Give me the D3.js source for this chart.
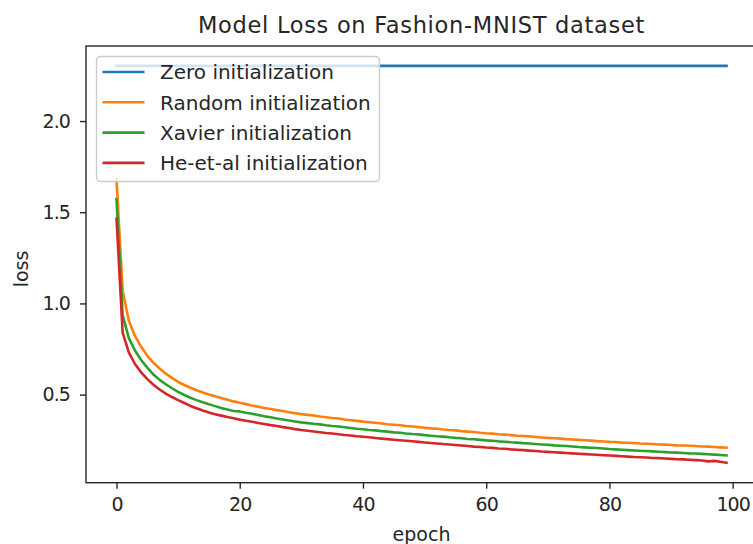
<!DOCTYPE html>
<html>
<head>
<meta charset="utf-8">
<script src="https://cdn.jsdelivr.net/npm/d3@7/dist/d3.min.js"></script>
<style>
  html, body { margin: 0; padding: 0; background: #fff; overflow: hidden; }
  svg { display: block; font-family: "DejaVu Sans", sans-serif; }
</style>
</head>
<body>
<svg id="svg" width="753" height="544"></svg>
<script>
// loss per epoch (epochs 0..99)
var epochs = d3.range(0, 100);

var zeroLoss = [
  2.3027, 2.3026, 2.3026, 2.3026, 2.3026, 2.3026, 2.3026, 2.3026, 2.3026, 2.3026,
  2.3026, 2.3026, 2.3026, 2.3026, 2.3026, 2.3026, 2.3026, 2.3026, 2.3026, 2.3026,
  2.3026, 2.3026, 2.3026, 2.3026, 2.3026, 2.3026, 2.3026, 2.3026, 2.3026, 2.3026,
  2.3026, 2.3026, 2.3026, 2.3026, 2.3026, 2.3026, 2.3026, 2.3026, 2.3026, 2.3026,
  2.3026, 2.3026, 2.3026, 2.3026, 2.3026, 2.3026, 2.3026, 2.3026, 2.3026, 2.3026,
  2.3026, 2.3026, 2.3026, 2.3026, 2.3026, 2.3026, 2.3026, 2.3026, 2.3026, 2.3026,
  2.3026, 2.3026, 2.3026, 2.3026, 2.3026, 2.3026, 2.3026, 2.3026, 2.3026, 2.3026,
  2.3026, 2.3026, 2.3026, 2.3026, 2.3026, 2.3026, 2.3026, 2.3026, 2.3026, 2.3026,
  2.3026, 2.3026, 2.3026, 2.3026, 2.3026, 2.3026, 2.3026, 2.3026, 2.3026, 2.3026,
  2.3026, 2.3026, 2.3026, 2.3026, 2.3026, 2.3026, 2.3026, 2.3026, 2.3026, 2.3026
];

var randomLoss = [
  1.680, 1.070, 0.905, 0.822, 0.762, 0.713, 0.674, 0.643, 0.615, 0.592,
  0.570, 0.553, 0.538, 0.524, 0.512, 0.501, 0.491, 0.481, 0.472, 0.463,
  0.455, 0.448, 0.441, 0.434, 0.427, 0.421, 0.415, 0.410, 0.403, 0.398,
  0.393, 0.389, 0.386, 0.380, 0.376, 0.372, 0.369, 0.364, 0.360, 0.356,
  0.352, 0.349, 0.346, 0.342, 0.338, 0.335, 0.332, 0.328, 0.325, 0.322,
  0.318, 0.315, 0.313, 0.309, 0.306, 0.304, 0.300, 0.297, 0.295, 0.291,
  0.288, 0.286, 0.283, 0.281, 0.278, 0.275, 0.273, 0.271, 0.268, 0.265,
  0.263, 0.261, 0.259, 0.256, 0.254, 0.252, 0.250, 0.248, 0.245, 0.243,
  0.241, 0.240, 0.237, 0.236, 0.234, 0.232, 0.231, 0.229, 0.227, 0.226,
  0.224, 0.222, 0.221, 0.220, 0.218, 0.216, 0.215, 0.213, 0.211, 0.209
];

var xavierLoss = [
  1.571, 0.935, 0.810, 0.742, 0.690, 0.648, 0.610, 0.581, 0.557, 0.535,
  0.515, 0.498, 0.483, 0.470, 0.458, 0.447, 0.437, 0.427, 0.418, 0.410,
  0.408, 0.401, 0.395, 0.388, 0.381, 0.376, 0.369, 0.364, 0.358, 0.353,
  0.348, 0.344, 0.340, 0.337, 0.332, 0.328, 0.325, 0.321, 0.317, 0.313,
  0.310, 0.306, 0.304, 0.300, 0.297, 0.293, 0.291, 0.287, 0.284, 0.282,
  0.278, 0.275, 0.272, 0.270, 0.266, 0.263, 0.261, 0.257, 0.255, 0.252,
  0.249, 0.247, 0.244, 0.242, 0.239, 0.237, 0.234, 0.232, 0.229, 0.227,
  0.225, 0.222, 0.220, 0.218, 0.216, 0.213, 0.211, 0.209, 0.207, 0.205,
  0.202, 0.200, 0.198, 0.196, 0.194, 0.192, 0.191, 0.189, 0.187, 0.185,
  0.183, 0.182, 0.180, 0.178, 0.177, 0.175, 0.173, 0.171, 0.169, 0.167
];

var heLoss = [
  1.464, 0.840, 0.732, 0.668, 0.622, 0.585, 0.554, 0.528, 0.506, 0.487,
  0.470, 0.454, 0.438, 0.425, 0.413, 0.402, 0.393, 0.385, 0.377, 0.370,
  0.363, 0.357, 0.351, 0.345, 0.339, 0.333, 0.328, 0.322, 0.317, 0.311,
  0.306, 0.302, 0.298, 0.294, 0.290, 0.287, 0.283, 0.279, 0.276, 0.272,
  0.269, 0.266, 0.262, 0.259, 0.256, 0.253, 0.250, 0.247, 0.244, 0.241,
  0.238, 0.235, 0.232, 0.229, 0.227, 0.224, 0.221, 0.218, 0.215, 0.213,
  0.210, 0.208, 0.205, 0.203, 0.200, 0.198, 0.196, 0.193, 0.191, 0.188,
  0.186, 0.184, 0.182, 0.180, 0.178, 0.176, 0.174, 0.172, 0.170, 0.168,
  0.166, 0.164, 0.162, 0.160, 0.158, 0.157, 0.155, 0.153, 0.152, 0.150,
  0.148, 0.146, 0.145, 0.143, 0.141, 0.139, 0.134, 0.137, 0.132, 0.126
];

var seriesNames = ["Zero initialization", "Random initialization", "Xavier initialization", "He-et-al initialization"];
var seriesValues = [zeroLoss, randomLoss, xavierLoss, heLoss];
var seriesColors = ["#1f77b4", "#ff7f0e", "#2ca02c", "#d62728"];

var xTicks = [0, 20, 40, 60, 80, 100];
var yTicks = [0.5, 1.0, 1.5, 2.0];

var titleText = "Model Loss on Fashion-MNIST dataset";
var xLabel = "epoch";
var yLabel = "loss";

// plot box (right spine sits just outside the picture, like the screenshot)
var margin = {left: 86, top: 46, right: 757, bottom: 482.7};
var ink = "#262626";

var svg = d3.select("#svg");

// matplotlib style 5% padding on both axes
var xExt = d3.extent(epochs);
var xPad = (xExt[1] - xExt[0]) * 0.05;
var allVals = d3.merge(seriesValues);
var yExt = d3.extent(allVals);
var yPad = (yExt[1] - yExt[0]) * 0.05;

var x = d3.scaleLinear().domain([xExt[0] - xPad, xExt[1] + xPad]).range([margin.left, margin.right]);
var y = d3.scaleLinear().domain([yExt[0] - yPad, yExt[1] + yPad]).range([margin.bottom, margin.top]);

svg.append("defs").append("clipPath").attr("id", "clip")
  .append("rect")
  .attr("x", margin.left).attr("y", margin.top)
  .attr("width", margin.right - margin.left).attr("height", margin.bottom - margin.top);

// lines
var line = d3.line()
  .x(function(d, i) { return x(epochs[i]); })
  .y(function(d) { return y(d); });

svg.append("g").attr("clip-path", "url(#clip)")
  .selectAll("path")
  .data(seriesValues)
  .enter().append("path")
  .attr("d", line)
  .attr("fill", "none")
  .attr("stroke", function(d, i) { return seriesColors[i]; })
  .attr("stroke-width", 2.6)
  .attr("stroke-linejoin", "round")
  .attr("stroke-linecap", "square");

// axes
var xAxis = d3.axisBottom(x).tickValues(xTicks).tickFormat(d3.format("d")).tickSize(6).tickPadding(9.3);
var yAxis = d3.axisLeft(y).tickValues(yTicks).tickFormat(d3.format(".1f")).tickSize(6).tickPadding(10);

var gx = svg.append("g").attr("transform", "translate(0," + margin.bottom + ")").call(xAxis);
var gy = svg.append("g").attr("transform", "translate(" + margin.left + ",0)").call(yAxis);

[gx, gy].forEach(function(g) {
  g.select(".domain").remove();
  g.selectAll("line").attr("stroke", ink).attr("stroke-width", 1.4);
  g.selectAll("text")
    .attr("fill", ink)
    .style("font-size", "19px")
    .style("letter-spacing", "-0.9px")
    .style("font-family", "DejaVu Sans");
});

// spines
svg.append("rect")
  .attr("x", margin.left).attr("y", margin.top)
  .attr("width", margin.right - margin.left).attr("height", margin.bottom - margin.top)
  .attr("fill", "none").attr("stroke", ink).attr("stroke-width", 1.4);

// title and axis labels
svg.append("text")
  .attr("x", (margin.left + margin.right) / 2).attr("y", 33)
  .attr("text-anchor", "middle")
  .attr("fill", ink)
  .style("font-size", "22.5px")
  .style("letter-spacing", "0.7px")
  .text(titleText);

svg.append("text")
  .attr("x", (margin.left + margin.right) / 2).attr("y", 541)
  .attr("text-anchor", "middle")
  .attr("fill", ink)
  .style("font-size", "19px")
  .text(xLabel);

svg.append("text")
  .attr("transform", "translate(28,269) rotate(-90)")
  .attr("text-anchor", "middle")
  .attr("fill", ink)
  .style("font-size", "19px")
  .text(yLabel);

// legend, upper left
var legend = svg.append("g").attr("transform", "translate(96.5,56.5)");
legend.append("rect")
  .attr("width", 283).attr("height", 125)
  .attr("rx", 4).attr("ry", 4)
  .attr("fill", "#fff").attr("fill-opacity", 0.8)
  .attr("stroke", "#cccccc").attr("stroke-width", 1.4);

var item = legend.selectAll(".item")
  .data(seriesNames)
  .enter().append("g")
  .attr("class", "item")
  .attr("transform", function(d, i) { return "translate(0," + (15.5 + i * 30.3) + ")"; });

item.append("line")
  .attr("x1", 6).attr("x2", 48)
  .attr("stroke", function(d, i) { return seriesColors[i]; })
  .attr("stroke-width", 2.6);

item.append("text")
  .attr("x", 63.5).attr("dy", "0.36em")
  .attr("fill", ink)
  .style("font-size", "20px")
  .text(function(d) { return d; });
</script>
</body>
</html>
